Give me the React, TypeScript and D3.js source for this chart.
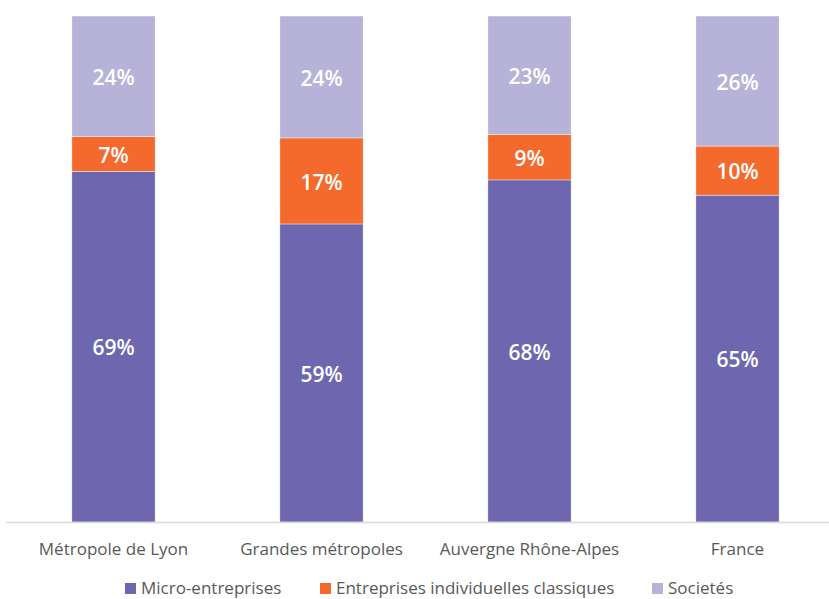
import React from "react";
import * as d3 from "d3";

const categories = ["Métropole de Lyon", "Grandes métropoles", "Auvergne Rhône-Alpes", "France"];
const seriesNames = ["Micro-entreprises", "Entreprises individuelles classiques", "Societés"];
const microValues = [69.3, 58.9, 67.6, 64.6];
const classiquesValues = [6.9, 17.0, 9.0, 9.7];
const societesValues = [23.8, 24.1, 23.4, 25.7];
const colors = ["#6e67b0", "#f46a2c", "#b7b2d7"];

const W = 829;
const H = 599;
const keys = ["micro", "classiques", "societes"];

export default function App() {
  const rows = categories.map((c, i) => ({
    cat: c,
    micro: microValues[i],
    classiques: classiquesValues[i],
    societes: societesValues[i],
  }));
  const stack = d3.stack<any>().keys(keys).offset(d3.stackOffsetExpand);
  const layers = stack(rows);

  const x = d3.scaleBand<string>().domain(categories).range([9.5, 841.5]).paddingInner(0.6).paddingOuter(0.3);
  const y = d3.scaleLinear().domain([0, 1]).range([522, 16]);
  const fmt = d3.format(".0f");

  const legendTextX = [141, 336, 668];

  return (
    <svg width={W} height={H} style={{ position: "absolute", left: 0, top: 0, background: "#fff" }}
      fontFamily="'Open Sans', sans-serif">
      {layers.map((layer, li) => (
        <g key={layer.key}>
          {layer.map((d, i) => {
            const x0 = x(categories[i])!;
            const yTop = y(d[1]);
            const yBot = y(d[0]);
            const raw = (rows[i] as any)[layer.key] as number;
            return (
              <g key={i}>
                <rect x={x0} y={yTop} width={x.bandwidth()} height={yBot - yTop} fill={colors[li]}
                  stroke="#ffffff" strokeWidth={0.4} />
                <text x={x0 + x.bandwidth() / 2} y={(yTop + yBot) / 2 + 3} textAnchor="middle"
                  dominantBaseline="middle" fill="#ffffff" fontSize={21} fontWeight={600}>
                  {fmt(raw) + "%"}
                </text>
              </g>
            );
          })}
        </g>
      ))}
      <line x1={6} x2={829} y1={522.5} y2={522.5} stroke="#d9d9d9" strokeWidth={1.5} />
      {categories.map((c) => (
        <text key={c} x={x(c)! + x.bandwidth() / 2} y={555} textAnchor="middle" fill="#595959" fontSize={17}>
          {c}
        </text>
      ))}
      {seriesNames.map((s, i) => (
        <g key={s}>
          <rect x={legendTextX[i] - 16} y={583} width={11} height={11} fill={colors[i]} />
          <text x={legendTextX[i]} y={594} fill="#595959" fontSize={17}>{s}</text>
        </g>
      ))}
    </svg>
  );
}
